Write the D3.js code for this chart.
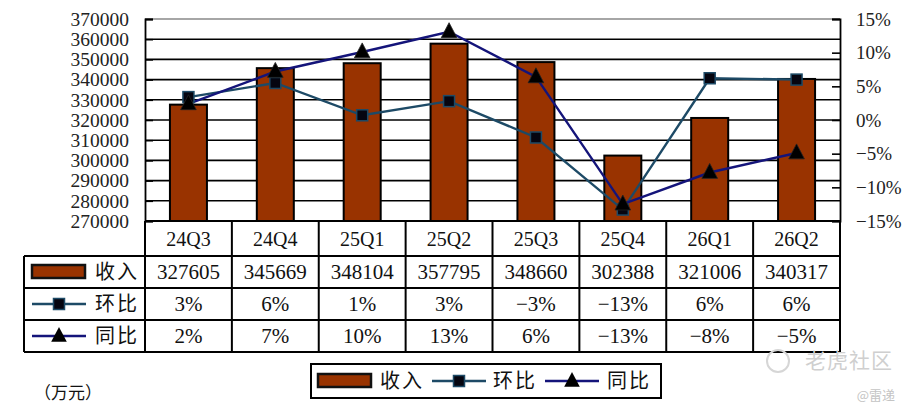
<!DOCTYPE html>
<html>
<head>
<meta charset="utf-8">
<script src="https://cdn.jsdelivr.net/npm/d3@7"></script>
<style>
  body { margin: 0; background: #fff; }
  svg { display: block; }
  text { font-family: 'Liberation Serif', 'Noto Sans CJK SC', serif; fill: #111; }
  .cjk { font-family: 'Noto Sans CJK SC', sans-serif; }
</style>
</head>
<body>
<svg id="chart"></svg>
<script>
// data
const quarters = ['24Q3', '24Q4', '25Q1', '25Q2', '25Q3', '25Q4', '26Q1', '26Q2'];
const revenue = [327605, 345669, 348104, 357795, 348660, 302388, 321006, 340317];
const qoq = [0.034, 0.055, 0.007, 0.028, -0.026, -0.133, 0.062, 0.060];
const yoy = [0.024, 0.072, 0.101, 0.131, 0.064, -0.125, -0.078, -0.049];
const qoqLabels = ['3%', '6%', '1%', '3%', '-3%', '-13%', '6%', '6%'];
const yoyLabels = ['2%', '7%', '10%', '13%', '6%', '-13%', '-8%', '-5%'];
const leftTicks = d3.range(270000, 370001, 10000);
const rightTicks = [-0.15, -0.10, -0.05, 0, 0.05, 0.10, 0.15];

const width = 914, height = 416;
const plot = { left: 145, right: 840, top: 19, bottom: 221 };
const rows = [221, 256, 288, 320, 352];
const tableLeft = 24;

const colors = { bar: '#993300', qoq: '#1d4a66', yoy: '#14147a' };

const svg = d3.select('#chart').attr('width', width).attr('height', height);

const x = d3.scaleBand().domain(quarters).range([plot.left, plot.right]);
const y = d3.scaleLinear().domain([270000, 370000]).range([plot.bottom, plot.top]);
const y2 = d3.scaleLinear().domain([-0.15, 0.15]).range([plot.bottom, plot.top]);

const minus = s => s.replace('-', '\u2212');

// gridlines
svg.append('g')
    .selectAll('line')
    .data(leftTicks.slice(1))
    .enter().append('line')
    .attr('x1', plot.left).attr('x2', plot.right)
    .attr('y1', d => y(d)).attr('y2', d => y(d))
    .attr('stroke', d => d === 370000 ? '#888' : '#000')
    .attr('stroke-width', 1.6);

// left axis
const leftAxis = svg.append('g')
    .attr('transform', `translate(${plot.left},0)`)
    .call(d3.axisLeft(y).tickValues(leftTicks).tickSize(-8).tickPadding(16).tickFormat(d3.format('d')));
leftAxis.select('.domain').attr('stroke', '#000').attr('stroke-width', 1.8);
leftAxis.selectAll('.tick line').attr('stroke', '#000').attr('stroke-width', 1.6);
leftAxis.selectAll('.tick text').attr('font-size', 19.5).attr('font-family', "'Liberation Serif', serif").style('fill', '#222');

// right axis
const rightAxis = svg.append('g')
    .attr('transform', `translate(${plot.right},0)`)
    .call(d3.axisRight(y2).tickValues(rightTicks).tickSize(-8).tickPadding(16)
        .tickFormat(d => minus(d3.format('.0%')(d))));
rightAxis.select('.domain').attr('stroke', '#000').attr('stroke-width', 1.8);
rightAxis.selectAll('.tick line').attr('stroke', '#000').attr('stroke-width', 1.6);
rightAxis.selectAll('.tick text').attr('font-size', 19).attr('font-family', "'Liberation Serif', serif").style('fill', '#222');

// bars
const barW = 37;
svg.append('g')
    .selectAll('rect')
    .data(revenue)
    .enter().append('rect')
    .attr('x', (d, i) => x(quarters[i]) + x.bandwidth() / 2 - barW / 2)
    .attr('y', d => y(d))
    .attr('width', barW)
    .attr('height', d => plot.bottom - y(d))
    .attr('fill', colors.bar)
    .attr('stroke', '#000')
    .attr('stroke-width', 2);

const cx = i => x(quarters[i]) + x.bandwidth() / 2;

const tri = (px, py, s) => `M${px},${py - s * 0.7}L${px + s * 0.6},${py + s * 0.45}L${px - s * 0.6},${py + s * 0.45}Z`;

// lines
const line = d3.line().x((d, i) => cx(i)).y(d => y2(d));
svg.append('path').datum(qoq).attr('d', line)
    .attr('fill', 'none').attr('stroke', colors.qoq).attr('stroke-width', 2.4);
svg.append('path').datum(yoy).attr('d', line)
    .attr('fill', 'none').attr('stroke', colors.yoy).attr('stroke-width', 2.4);

svg.append('g').selectAll('rect')
    .data(qoq).enter().append('rect')
    .attr('x', (d, i) => cx(i) - 5.5).attr('y', d => y2(d) - 5.5)
    .attr('width', 11).attr('height', 11)
    .attr('fill', '#050510').attr('stroke', colors.qoq).attr('stroke-width', 1.5);

svg.append('g').selectAll('path')
    .data(yoy).enter().append('path')
    .attr('d', (d, i) => tri(cx(i), y2(d), 13))
    .attr('fill', '#000').attr('stroke', '#222').attr('stroke-width', 0.8);

// data table
const table = svg.append('g');
const lineAttrs = sel => sel.attr('stroke', '#000').attr('stroke-width', 2);

// horizontal rules
table.append('line').call(lineAttrs).attr('x1', plot.left).attr('x2', plot.right).attr('y1', rows[0]).attr('y2', rows[0]);
rows.slice(1).forEach(ry => {
  table.append('line').call(lineAttrs).attr('x1', tableLeft).attr('x2', plot.right).attr('y1', ry).attr('y2', ry);
});
// vertical rules
quarters.forEach(q => {
  table.append('line').call(lineAttrs).attr('x1', x(q)).attr('x2', x(q)).attr('y1', rows[0]).attr('y2', rows[4]);
});
table.append('line').call(lineAttrs).attr('x1', plot.right).attr('x2', plot.right).attr('y1', rows[0]).attr('y2', rows[4]);
table.append('line').call(lineAttrs).attr('x1', tableLeft).attr('x2', tableLeft).attr('y1', rows[1]).attr('y2', rows[4]);

const rowText = [quarters, revenue.map(String), qoqLabels.map(minus), yoyLabels.map(minus)];
rowText.forEach((vals, r) => {
  table.append('g').selectAll('text')
      .data(vals).enter().append('text')
      .attr('x', (d, i) => cx(i))
      .attr('y', (rows[r] + rows[r + 1]) / 2 + 7)
      .attr('text-anchor', 'middle')
      .attr('font-size', r === 0 ? 20 : 21)
      .text(d => d);
});

// legend keys
const keyY = r => (rows[r] + rows[r + 1]) / 2;
const drawBarKey = (g, kx, ky) => {
  g.append('rect').attr('x', kx).attr('y', ky - 7).attr('width', 53).attr('height', 13)
      .attr('fill', colors.bar).attr('stroke', '#111').attr('stroke-width', 2.5);
};
const drawQoqKey = (g, kx, ky) => {
  g.append('line').attr('x1', kx).attr('x2', kx + 54).attr('y1', ky).attr('y2', ky)
      .attr('stroke', colors.qoq).attr('stroke-width', 2.4);
  g.append('rect').attr('x', kx + 21.5).attr('y', ky - 5.5).attr('width', 11).attr('height', 11)
      .attr('fill', '#050510').attr('stroke', colors.qoq).attr('stroke-width', 1.5);
};
const drawYoyKey = (g, kx, ky) => {
  g.append('line').attr('x1', kx).attr('x2', kx + 54).attr('y1', ky).attr('y2', ky)
      .attr('stroke', colors.yoy).attr('stroke-width', 2.4);
  g.append('path').attr('d', tri(kx + 27, ky, 13)).attr('fill', '#000');
};

const seriesNames = ['收入', '环比', '同比'];
const keyFns = [drawBarKey, drawQoqKey, drawYoyKey];

seriesNames.forEach((name, i) => {
  keyFns[i](table, 32, keyY(i + 1));
  table.append('text').attr('class', 'cjk')
      .attr('x', 139).attr('y', keyY(i + 1) + 7)
      .attr('text-anchor', 'end').attr('font-size', 20).attr('letter-spacing', 2)
      .text(name);
});

// bottom legend
const legend = svg.append('g');
legend.append('rect').attr('x', 311).attr('y', 364).attr('width', 350).attr('height', 34)
    .attr('fill', '#fff').attr('stroke', '#000').attr('stroke-width', 2);
const legendX = [318, 432, 545];
const legendTextX = [380, 493, 607];
seriesNames.forEach((name, i) => {
  keyFns[i](legend, legendX[i], 381);
  legend.append('text').attr('class', 'cjk')
      .attr('x', legendTextX[i]).attr('y', 388)
      .attr('font-size', 20).attr('letter-spacing', 2)
      .text(name);
});

// unit
svg.append('text').attr('class', 'cjk')
    .attr('x', 34).attr('y', 399).attr('font-size', 17)
    .text('（万元）');

// watermark
const wm = svg.append('g');
wm.append('circle').attr('cx', 778).attr('cy', 361).attr('r', 11)
    .attr('fill', 'none').attr('stroke', '#d6d6d6').attr('stroke-width', 2);
wm.append('text').attr('class', 'cjk').attr('x', 805).attr('y', 368)
    .attr('font-size', 21).style('fill', '#cfcfcf').attr('letter-spacing', 1).text('老虎社区');
wm.append('text').attr('class', 'cjk').attr('x', 895).attr('y', 400)
    .attr('text-anchor', 'end').attr('font-size', 13).style('fill', '#c4c4c4').text('@雷递');
</script>
</body>
</html>
